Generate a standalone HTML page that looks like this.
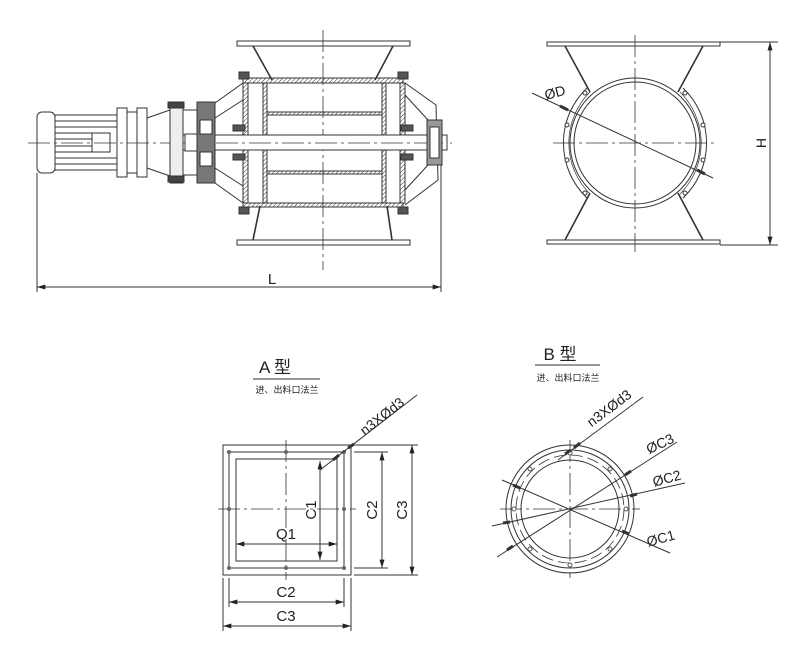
<!DOCTYPE html>
<html><head><meta charset="utf-8"><style>
html,body{margin:0;padding:0;background:#fff}
svg{display:block}
text{font-family:"Liberation Sans","Noto Sans CJK SC",sans-serif;fill:#222}
</style></head><body>
<svg width="800" height="650" viewBox="0 0 800 650" xmlns="http://www.w3.org/2000/svg">
<defs>
<pattern id="h" width="3" height="3" patternUnits="userSpaceOnUse" patternTransform="rotate(45)"><line x1="0" y1="0" x2="0" y2="3" stroke="#333" stroke-width="1"/></pattern>
<marker id="a" viewBox="0 0 10 6" refX="10" refY="3" markerWidth="10" markerHeight="5" orient="auto-start-reverse" markerUnits="userSpaceOnUse"><path d="M0,0L10,3L0,6z" fill="#222"/></marker>
</defs>
<g stroke="#333" stroke-width="1" fill="none">
<line x1="28" y1="143" x2="452" y2="143" stroke-dasharray="22,4,3,4" stroke-width="0.8"/>
<line x1="323" y1="30" x2="323" y2="270" stroke-dasharray="22,4,3,4" stroke-width="0.8"/>
<rect x="237" y="41" width="173" height="5"/>
<rect x="237" y="240" width="173" height="5"/>
<path d="M253,46 L272,80 M393,46 L375,80 M260,206 L253,240 M387,206 L392,240" stroke-width="1.6"/>
<rect x="243" y="78" width="160" height="5" fill="url(#h)"/>
<rect x="243" y="203" width="160" height="4" fill="url(#h)"/>
<rect x="243" y="83" width="5" height="120" fill="url(#h)"/>
<rect x="400" y="83" width="5" height="120" fill="url(#h)"/>
<rect x="263" y="83" width="4" height="120" fill="url(#h)"/>
<rect x="382" y="83" width="4" height="120" fill="url(#h)"/>
<rect x="267" y="112" width="115" height="3" fill="url(#h)"/>
<rect x="267" y="171" width="115" height="3" fill="url(#h)"/>
<rect x="183" y="135" width="264" height="15" fill="#fff"/>
<line x1="183" y1="143" x2="447" y2="143" stroke-dasharray="22,4,3,4" stroke-width="0.8"/>
<path d="M243,83 L215,103 M243,100 L215,118 M243,186 L215,168 M243,203 L215,183"/>
<path d="M405,83 L436,105 L438,180 L405,205 M405,95 L428,120 M405,190 L428,165"/>
<g fill="#555">
<rect x="239" y="72" width="10" height="7"/><rect x="239" y="207" width="10" height="7"/>
<rect x="398" y="72" width="10" height="7"/><rect x="398" y="207" width="10" height="7"/>
<rect x="233" y="125" width="12" height="6"/><rect x="233" y="154" width="12" height="6"/>
<rect x="401" y="125" width="12" height="6"/><rect x="401" y="154" width="12" height="6"/>
</g>
<rect x="427" y="120" width="15" height="45" fill="#999"/>
<rect x="430" y="127" width="9" height="31" fill="#fff"/>
<rect x="37" y="112" width="18" height="61" rx="5"/>
<rect x="55" y="115" width="62" height="55"/>
<path d="M55,121H117M55,127H117M55,133H92M55,139H92M55,146H92M55,152H92M55,158H117M55,164H117"/>
<rect x="92" y="133" width="18" height="19"/>
<rect x="117" y="108" width="10" height="69"/>
<rect x="127" y="112" width="10" height="61"/>
<rect x="137" y="108" width="10" height="69"/>
<path d="M147,118 L170,110 M147,168 L170,176"/>
<rect x="170" y="102" width="13" height="81" fill="#eee"/>
<rect x="183" y="110" width="14" height="65"/>
<rect x="185" y="134" width="28" height="17" fill="#fff"/>
<rect x="197" y="102" width="18" height="81" fill="#777"/>
<rect x="200" y="120" width="12" height="14" fill="#fff"/>
<rect x="200" y="152" width="12" height="14" fill="#fff"/>
<g fill="#444"><rect x="168" y="102" width="16" height="6"/><rect x="168" y="176" width="16" height="6"/></g>
<line x1="37" y1="173" x2="37" y2="292"/>
<line x1="441" y1="165" x2="441" y2="292"/>
<line x1="37" y1="287" x2="441" y2="287" marker-start="url(#a)" marker-end="url(#a)"/>

<line x1="635" y1="35" x2="635" y2="252" stroke-dasharray="22,4,3,4" stroke-width="0.8"/>
<line x1="553" y1="143" x2="717" y2="143" stroke-dasharray="22,4,3,4" stroke-width="0.8"/>
<rect x="547" y="42" width="173" height="4"/>
<rect x="547" y="240" width="173" height="4"/>
<path d="M565,46 L590,92 M703,46 L678,92 M590,193 L565,240 M678,193 L703,240" stroke-width="1.6"/>
<circle cx="635" cy="143" r="65"/>
<circle cx="635" cy="143" r="61"/>
<path d="M587,88 A76,76 0 0 0 587,198 M683,88 A76,76 0 0 1 683,198"/>
<path d="M590,92 A72,72 0 0 0 590,194 M680,92 A72,72 0 0 1 680,194" stroke-width="0.7"/>
<g fill="#fff">
<circle cx="585" cy="93" r="2"/><circle cx="567" cy="125" r="2"/><circle cx="567" cy="160" r="2"/><circle cx="585" cy="193" r="2"/>
<circle cx="685" cy="93" r="2"/><circle cx="703" cy="125" r="2"/><circle cx="703" cy="160" r="2"/><circle cx="685" cy="193" r="2"/>
</g>
<line x1="532" y1="93" x2="713" y2="178"/>
<line x1="560" y1="106" x2="568" y2="110" stroke-width="3"/>
<line x1="697" y1="170" x2="705" y2="174" stroke-width="3"/>
<line x1="720" y1="42" x2="778" y2="42"/>
<line x1="720" y1="245" x2="778" y2="245"/>
<line x1="770" y1="42" x2="770" y2="245" marker-start="url(#a)" marker-end="url(#a)"/>

<line x1="253" y1="379" x2="320" y2="379"/>
<rect x="223" y="445" width="128" height="130"/>
<rect x="229" y="452" width="115" height="116"/>
<rect x="236" y="459" width="101" height="102"/>
<line x1="218" y1="509" x2="356" y2="509" stroke-dasharray="22,4,3,4" stroke-width="0.8"/>
<line x1="286" y1="440" x2="286" y2="580" stroke-dasharray="22,4,3,4" stroke-width="0.8"/>
<g fill="#666" stroke="none">
<circle cx="229" cy="452" r="2"/><circle cx="286" cy="452" r="2"/><circle cx="344" cy="452" r="2"/>
<circle cx="229" cy="509" r="2"/><circle cx="344" cy="509" r="2"/>
<circle cx="229" cy="568" r="2"/><circle cx="286" cy="568" r="2"/><circle cx="344" cy="568" r="2"/>
</g>
<line x1="320" y1="461" x2="320" y2="560" marker-start="url(#a)" marker-end="url(#a)"/>
<line x1="236" y1="544" x2="337" y2="544" marker-start="url(#a)" marker-end="url(#a)"/>
<line x1="354" y1="452" x2="388" y2="452"/><line x1="354" y1="568" x2="388" y2="568"/>
<line x1="382" y1="452" x2="382" y2="568" marker-start="url(#a)" marker-end="url(#a)"/>
<line x1="354" y1="445" x2="418" y2="445"/><line x1="354" y1="575" x2="418" y2="575"/>
<line x1="412" y1="445" x2="412" y2="575" marker-start="url(#a)" marker-end="url(#a)"/>
<line x1="229" y1="578" x2="229" y2="607"/><line x1="344" y1="578" x2="344" y2="607"/>
<line x1="229" y1="602" x2="344" y2="602" marker-start="url(#a)" marker-end="url(#a)"/>
<line x1="223" y1="578" x2="223" y2="631"/><line x1="351" y1="578" x2="351" y2="631"/>
<line x1="223" y1="626" x2="351" y2="626" marker-start="url(#a)" marker-end="url(#a)"/>
<line x1="320" y1="470" x2="417" y2="395"/>
<line x1="333" y1="460" x2="339" y2="455" stroke-width="3"/>
<line x1="348" y1="448" x2="354" y2="444" stroke-width="3"/>

<line x1="535" y1="365" x2="600" y2="365"/>
<circle cx="570" cy="509" r="64"/>
<circle cx="570" cy="509" r="59"/>
<circle cx="570" cy="509" r="54" stroke-dasharray="12,5" stroke-width="0.8"/>
<circle cx="570" cy="509" r="49"/>
<line x1="500" y1="509" x2="640" y2="509" stroke-dasharray="22,4,3,4" stroke-width="0.8"/>
<line x1="570" y1="440" x2="570" y2="578" stroke-dasharray="22,4,3,4" stroke-width="0.8"/>
<g fill="#fff" stroke="#555">
<circle cx="570" cy="453" r="2"/><circle cx="570" cy="565" r="2"/><circle cx="514" cy="509" r="2"/><circle cx="626" cy="509" r="2"/>
<circle cx="530" cy="469" r="2"/><circle cx="610" cy="469" r="2"/><circle cx="530" cy="549" r="2"/><circle cx="610" cy="549" r="2"/>
</g>
<line x1="502" y1="480" x2="670" y2="553"/>
<line x1="492" y1="526" x2="685" y2="483"/>
<line x1="497" y1="557" x2="677" y2="442"/>
<line x1="558" y1="460" x2="643" y2="397"/>
<g stroke-width="3">
<line x1="513" y1="485" x2="520" y2="488"/><line x1="622" y1="531" x2="629" y2="534"/>
<line x1="503" y1="523" x2="510" y2="522"/><line x1="630" y1="496" x2="637" y2="494"/>
<line x1="507" y1="550" x2="513" y2="546"/><line x1="625" y1="475" x2="631" y2="471"/>
<line x1="565" y1="454" x2="571" y2="450"/><line x1="574" y1="448" x2="580" y2="443"/>
</g>
</g>
<text x="272" y="284" font-size="15" text-anchor="middle">L</text>
<text x="546" y="100" font-size="14" transform="rotate(-15 546 100)">ØD</text>
<text x="766" y="143" font-size="14" text-anchor="middle" transform="rotate(-90 766 143)">H</text>
<text x="275" y="373" font-size="17" text-anchor="middle">A 型</text>
<text x="287" y="393" font-size="9" text-anchor="middle">进、出料口法兰</text>
<text x="560" y="360" font-size="17" text-anchor="middle">B 型</text>
<text x="568" y="381" font-size="9" text-anchor="middle">进、出料口法兰</text>
<text x="316" y="510" font-size="15" text-anchor="middle" transform="rotate(-90 316 510)">C1</text>
<text x="286" y="539" font-size="15" text-anchor="middle">Q1</text>
<text x="377" y="510" font-size="15" text-anchor="middle" transform="rotate(-90 377 510)">C2</text>
<text x="407" y="510" font-size="15" text-anchor="middle" transform="rotate(-90 407 510)">C3</text>
<text x="286" y="597" font-size="15" text-anchor="middle">C2</text>
<text x="286" y="621" font-size="15" text-anchor="middle">C3</text>
<text x="385" y="420" font-size="14" text-anchor="middle" transform="rotate(-38 385 420)">n3XØd3</text>
<text x="612" y="412" font-size="14" text-anchor="middle" transform="rotate(-37 612 412)">n3XØd3</text>
<text x="662" y="448" font-size="14" text-anchor="middle" transform="rotate(-25 662 448)">ØC3</text>
<text x="668" y="483" font-size="14" text-anchor="middle" transform="rotate(-15 668 483)">ØC2</text>
<text x="662" y="543" font-size="14" text-anchor="middle" transform="rotate(-15 662 543)">ØC1</text>
</svg>
</body></html>
